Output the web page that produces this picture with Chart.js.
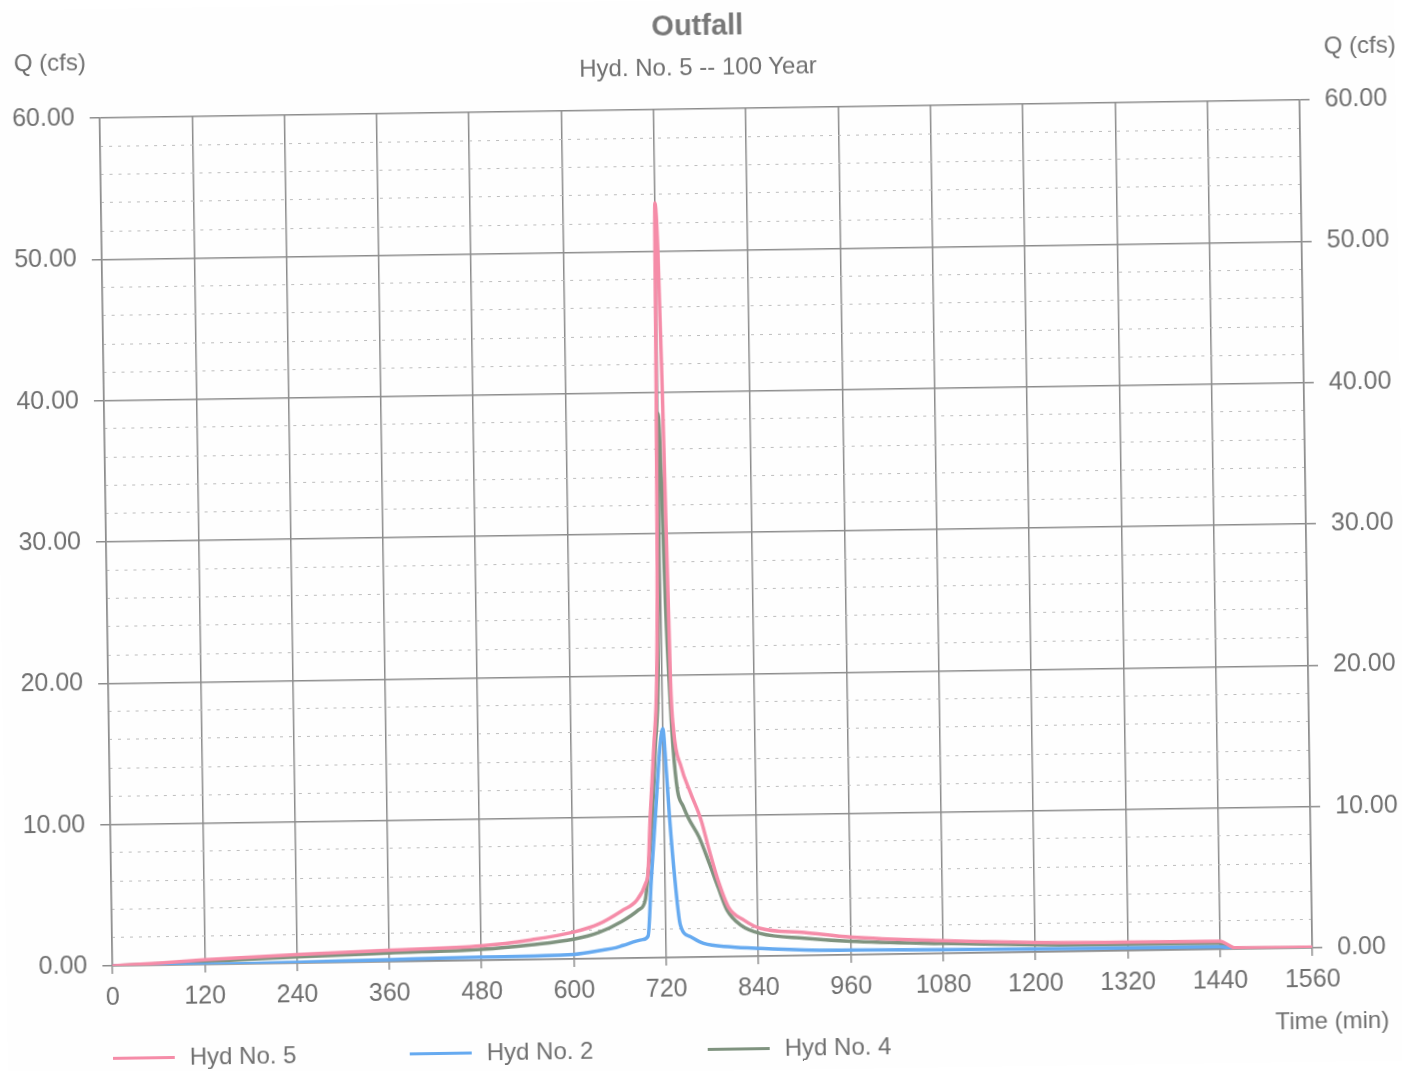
<!DOCTYPE html>
<html>
<head>
<meta charset="utf-8">
<title>Outfall</title>
<script src="https://cdn.jsdelivr.net/npm/chart.js@4.4.0/dist/chart.umd.min.js"></script>
<style>
  html, body { margin: 0; padding: 0; background: #fff; overflow: hidden; }
  #sheet {
    position: relative; width: 1402px; height: 1071px; background: #fefefe;
    transform: rotate(-0.86deg); transform-origin: 701px 535px;
    font-family: "Liberation Sans", Arial, sans-serif; color: #707070;
  }
  #sheet canvas { position: absolute; left: 0; top: 0; }
  .lbl { position: absolute; white-space: nowrap; font-size: 24px; line-height: 1; transform: translate(-50%, -50%); }
  .title { font-size: 29px; font-weight: bold; color: #787878; }
  .key-line { position: absolute; width: 62px; height: 3px; }
  .key-text { position: absolute; font-size: 24px; line-height: 1; white-space: nowrap; transform: translateY(-50%); }
</style>
</head>
<body>
<div id="sheet">
  <canvas id="chart" width="1402" height="1071"></canvas>
  <div class="lbl title" style="left:705px; top:25px;">Outfall</div>
  <div class="lbl" style="left:705px; top:67px;">Hyd. No. 5 -- 100 Year</div>
  <div class="lbl" style="left:57px; top:53px;">Q (cfs)</div>
  <div class="lbl" style="left:1367px; top:55px;">Q (cfs)</div>
  <div class="lbl" style="left:1325px; top:1030px;">Time (min)</div>
  <div id="legend"></div>
</div>
<script>
var hyd5Time = [0, 60, 120, 240, 360, 480, 545, 600, 633, 663, 683, 695, 698, 702, 708, 713, 716, 718, 720, 723, 726, 731, 734, 743, 755, 768, 778, 789, 802, 822, 843, 900, 960, 1080, 1200, 1320, 1440, 1460, 1560];
var hyd5Flow = [0, 0.15, 0.33, 0.6, 0.82, 1.03, 1.4, 1.9, 2.45, 3.35, 4.1, 5.3, 6.0, 10.0, 14.9, 19.6, 28, 40, 53.4, 50, 40, 19.6, 16.1, 13.5, 11.6, 9.7, 7.55, 5.4, 3.5, 2.56, 1.96, 1.63, 1.25, 0.9, 0.68, 0.6, 0.57, 0.08, 0.05];

var hyd2Time = [0, 120, 180, 240, 360, 480, 600, 638, 655, 664, 690, 697, 702, 709, 716, 720, 724, 727, 733, 739, 752, 769, 804, 843, 900, 960, 1080, 1200, 1320, 1440, 1460, 1560];
var hyd2Flow = [0, 0, 0.02, 0.06, 0.15, 0.23, 0.32, 0.6, 0.75, 0.9, 1.3, 1.55, 5.4, 10.2, 14.9, 16.2, 13, 10, 5.4, 2.3, 1.45, 0.96, 0.69, 0.54, 0.39, 0.33, 0.27, 0.22, 0.19, 0.18, 0.02, 0.01];

var hyd4Time = [0, 120, 240, 360, 480, 545, 600, 633, 663, 685, 694, 700, 705, 710, 715, 718, 720, 723, 726, 730, 733, 738, 745, 752, 765, 778, 789, 800, 818, 843, 900, 960, 1080, 1200, 1320, 1440, 1460, 1560];
var hyd4Flow = [0, 0.2, 0.44, 0.62, 0.78, 1.05, 1.4, 1.85, 2.6, 3.4, 4.1, 7.0, 10.2, 14.9, 19.6, 29, 38.5, 34, 25, 18.5, 14.9, 11.8, 10.7, 9.8, 8.5, 6.6, 4.9, 3.3, 2.2, 1.6, 1.22, 0.95, 0.7, 0.52, 0.45, 0.42, 0.03, 0.02];

var seriesNames = ['Hyd No. 5', 'Hyd No. 2', 'Hyd No. 4'];
var seriesColors = ['#f58ca8', '#66aaf0', '#7f937f'];
var legendLeft = [105, 402, 700];

function toPoints(times, flows) {
  return times.map(function(t, i) { return { x: t, y: flows[i] }; });
}

var gridColor = '#8c8c8c';
var tickFont = { family: '"Liberation Sans", Arial, sans-serif', size: 25 };

var datasets = [
  toPoints(hyd5Time, hyd5Flow),
  toPoints(hyd2Time, hyd2Flow),
  toPoints(hyd4Time, hyd4Flow)
].map(function(pts, i) {
  return {
    label: seriesNames[i],
    data: pts,
    borderColor: seriesColors[i],
    backgroundColor: seriesColors[i],
    borderWidth: 3.5,
    pointRadius: 0,
    cubicInterpolationMode: 'monotone',
    fill: false
  };
});

var chart = new Chart(document.getElementById('chart'), {
  type: 'line',
  data: { datasets: datasets },
  options: {
    responsive: false,
    animation: false,
    devicePixelRatio: 1,
    layout: { padding: { top: 109, bottom: 0, left: 0, right: 0 } },
    plugins: { legend: { display: false }, tooltip: { enabled: false }, title: { display: false } },
    scales: {
      x: {
        type: 'linear', min: 0, max: 1560,
        afterFit: function(s) { s.height = 114; },
        ticks: { stepSize: 120, color: '#707070', font: tickFont, padding: 9, maxRotation: 0,
          callback: function(v) { return String(v); } },
        grid: { color: gridColor, lineWidth: 1.5, tickLength: 8 },
        border: { color: gridColor, width: 1.5 }
      },
      y: {
        position: 'left', min: 0, max: 60, weight: 2,
        afterFit: function(s) { s.width = 106; },
        ticks: { stepSize: 10, color: '#707070', font: tickFont, padding: 15,
          callback: function(v) { return v.toFixed(2); } },
        grid: { color: gridColor, lineWidth: 1.5, tickLength: 10 },
        border: { color: gridColor, width: 1.5 }
      },
      yMinor: {
        position: 'left', min: 0, max: 60, weight: 1,
        afterFit: function(s) { s.width = 0; },
        ticks: { display: false, stepSize: 2 },
        grid: {
          drawTicks: false, lineWidth: 1,
          color: function(c) { return c.tick && c.tick.value % 10 === 0 ? 'rgba(0,0,0,0)' : '#bdbdbd'; }
        },
        border: { display: false, dash: [3, 6] }
      },
      yRight: {
        position: 'right', min: 0, max: 60,
        afterFit: function(s) { s.width = 96; },
        ticks: { stepSize: 10, color: '#707070', font: tickFont, padding: 15,
          callback: function(v) { return v.toFixed(2); } },
        grid: { drawOnChartArea: false, color: gridColor, lineWidth: 1.5, tickLength: 10 },
        border: { color: gridColor, width: 1.5 }
      }
    }
  }
});

// legend built from the datasets
var legend = document.getElementById('legend');
chart.data.datasets.forEach(function(ds, i) {
  var line = document.createElement('div');
  line.className = 'key-line';
  line.style.left = legendLeft[i] + 'px';
  line.style.top = '1048px';
  line.style.background = ds.borderColor;
  legend.appendChild(line);
  var text = document.createElement('div');
  text.className = 'key-text';
  text.style.left = (legendLeft[i] + 77) + 'px';
  text.style.top = '1049px';
  text.textContent = ds.label;
  legend.appendChild(text);
});
</script>
</body>
</html>
